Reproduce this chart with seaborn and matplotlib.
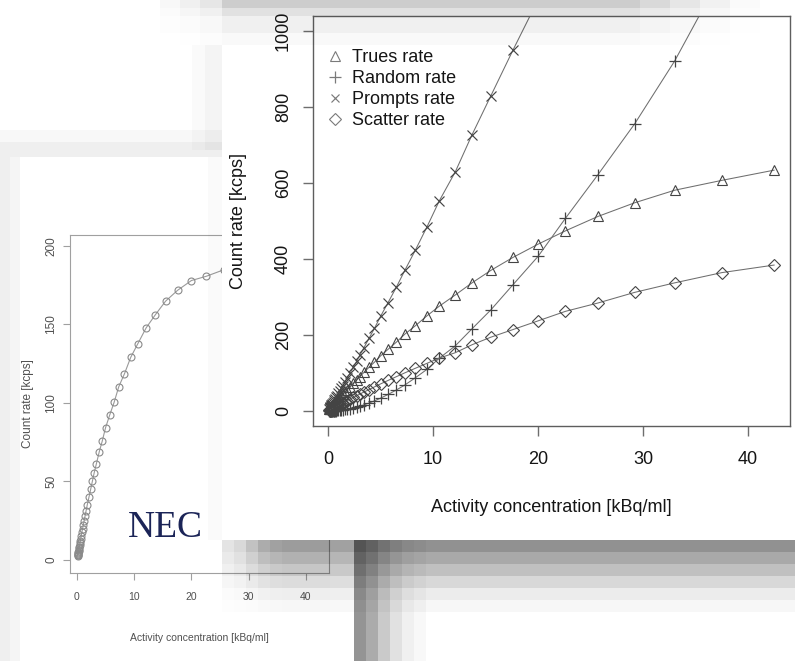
import numpy as np
import pandas as pd
import matplotlib
matplotlib.use("Agg")
import matplotlib.pyplot as plt
import seaborn as sns
from matplotlib.lines import Line2D
from matplotlib.patches import Rectangle

# Activity concentration of each acquisition frame [kBq/ml]
conc = [0.12, 0.14, 0.16, 0.18, 0.21, 0.24, 0.27, 0.31, 0.35, 0.40,
        0.45, 0.51, 0.58, 0.66, 0.75, 0.85, 0.97, 1.1, 1.25, 1.4,
        1.6, 1.8, 2.1, 2.4, 2.7, 3.0, 3.4, 3.9, 4.4, 5.0,
        5.7, 6.5, 7.3, 8.3, 9.4, 10.6, 12.1, 13.7, 15.5, 17.6,
        20.0, 22.6, 25.7, 29.2, 33.0, 37.5, 42.5]

# Count rates [kcps]
trues = [3.8, 4.4, 5.0, 5.7, 6.6, 7.5, 8.5, 9.7, 11.0, 12.5,
         14.1, 16.0, 18.1, 20.6, 23.4, 26.5, 30, 34, 38.5, 43,
         49, 55, 63.5, 72, 81, 90, 101, 115, 128, 145,
         162, 181, 202, 224, 250, 276, 305, 337, 370, 404,
         439, 474, 512, 548, 581, 607, 634]
randoms = [0.02, 0.03, 0.04, 0.05, 0.06, 0.08, 0.1, 0.13, 0.16, 0.2,
           0.3, 0.35, 0.45, 0.6, 0.8, 1.0, 1.3, 1.6, 2.1, 2.7,
           3.5, 4.4, 6.0, 7.8, 9.9, 12.2, 15.7, 20.6, 26, 33.5,
           43, 55, 68, 87, 109, 139, 171, 216, 266, 332,
           407, 507, 622, 756, 921, 1150, 1390]
scatter = [1.8, 2.1, 2.4, 2.7, 3.1, 3.6, 4.0, 4.6, 5.2, 6.0,
           6.7, 7.6, 8.7, 9.9, 11.2, 12.7, 14.5, 16.4, 18.6, 20.8,
           23.8, 26.7, 31, 35.2, 39.5, 44, 49.5, 56, 63, 71,
           80, 90, 100, 112, 125, 139, 153, 174, 194, 214,
           237, 262, 284, 312, 337, 364, 384]
prompts = [5.6, 6.5, 7.4, 8.5, 9.8, 11.2, 12.6, 14.4, 16.4, 18.7,
           21.1, 24.0, 27.3, 31.1, 35.4, 40.2, 45.8, 52, 59.2, 66.5,
           76.3, 86.1, 100.5, 115, 130.4, 146.2, 166.2, 191.6, 217, 249.5,
           285, 326, 370, 423, 484, 554, 629, 727, 830, 950,
           1083, 1243, 1418, 1616, 1839, 2121, 2408]
nec = [2.6, 3.0, 3.4, 3.8, 4.5, 5.0, 5.7, 6.5, 7.4, 8.4,
       9.4, 10.7, 12.0, 13.6, 15.5, 17.5, 19.7, 22.2, 25.0, 27.8,
       31.5, 35.1, 40.1, 45.1, 50.3, 55.4, 61.4, 69.0, 75.5, 84.3,
       92.1, 100.5, 110.3, 118.6, 129.1, 137.5, 147.9, 156.2, 164.9, 171.8,
       178.0, 180.7, 184.9, 185.8, 183.5, 174.0, 167.0]

series_labels = ["Trues rate", "Random rate", "Prompts rate", "Scatter rate"]
x_label = "Activity concentration [kBq/ml]"
y_label = "Count rate [kcps]"
main_xticks = [0, 10, 20, 30, 40]
main_yticks = [0, 200, 400, 600, 800, 1000]
nec_xticks = [0, 10, 20, 30, 40]
nec_yticks = [0, 50, 100, 150, 200]

df = pd.DataFrame({"conc": conc, "trues": trues, "randoms": randoms,
                   "prompts": prompts, "scatter": scatter, "nec": nec})

sns.set_theme(style="ticks")
plt.rcParams["font.family"] = ["Liberation Sans", "DejaVu Sans"]

W, H = 795, 661
fig = plt.figure(figsize=(W / 100, H / 100), dpi=100)
fig.patch.set_facecolor("white")


def fig_rect(x0, y0, x1, y1):
    """Pixel box (top-left origin) -> figure-fraction rect."""
    return [x0 / W, (H - y1) / H, (x1 - x0) / W, (y1 - y0) / H]


# ---------------- NEC panel (behind) ----------------
axL = fig.add_axes(fig_rect(70, 235, 329, 573))
axL.set_zorder(1)
axL.set_facecolor("white")
sns.lineplot(data=df, x="conc", y="nec", ax=axL, errorbar=None,
             color="#9a9a9a", lw=0.8, marker="o", ms=5.0,
             markerfacecolor="none", markeredgecolor="#8a8a8a",
             markeredgewidth=0.8)
axL.set_xlim(-1.22, 44.06)
axL.set_ylim(-8.3, 207)
axL.set_xticks(nec_xticks)
axL.set_xticklabels([str(v) for v in nec_xticks])
axL.set_yticks(nec_yticks)
axL.set_yticklabels([str(v) for v in nec_yticks], rotation=90, va="center")
for sp in axL.spines.values():
    sp.set_color("#a0a0a0")
    sp.set_linewidth(0.8)
axL.tick_params(axis="both", length=5, width=0.8, color="#a0a0a0",
                labelsize=7.5, labelcolor="#505050")
axL.tick_params(axis="x", pad=9)
axL.tick_params(axis="y", pad=4, labelsize=8.5)
axL.set_xlabel(x_label, fontsize=7.5, color="#505050")
axL.set_ylabel(y_label, fontsize=8.5, color="#505050")
axL.xaxis.set_label_coords(0.5, -0.192)
axL.xaxis.label.set_va("center")
axL.yaxis.set_label_coords(-0.162, 0.5)
axL.yaxis.label.set_va("center")

fig.text(128 / W, (H - 537) / H, "NEC", fontfamily="Liberation Serif",
         fontsize=27, color="#1b2457", ha="left", va="baseline", zorder=1.5)

# White card holding the count-rate chart
fig.add_artist(Rectangle((222 / W, (H - 540) / H), (W - 222) / W, 540 / H,
                         transform=fig.transFigure, facecolor="white",
                         edgecolor="none", zorder=2))

# ---------------- Count-rate panel ----------------
axM = fig.add_axes(fig_rect(313, 16, 790, 426))
axM.set_zorder(3)
axM.set_facecolor("white")

line_col = "#6e6e6e"
styles = {
    "trues": dict(marker="^", ms=7.8, mew=0.8),
    "randoms": dict(marker="+", ms=9, mew=0.9),
    "prompts": dict(marker="x", ms=6.8, mew=0.85),
    "scatter": dict(marker="D", ms=6.0, mew=0.8),
}
for key in ["trues", "randoms", "prompts", "scatter"]:
    st = styles[key]
    sns.lineplot(data=df, x="conc", y=key, ax=axM, errorbar=None,
                 color=line_col, lw=0.75, marker=st["marker"],
                 ms=st["ms"], markerfacecolor="none",
                 markeredgecolor="#444444", markeredgewidth=st["mew"])

axM.set_xlim(-1.45, 44.0)
axM.set_ylim(-40, 1040)
axM.set_xticks(main_xticks)
axM.set_xticklabels([str(v) for v in main_xticks])
axM.set_yticks(main_yticks)
axM.set_yticklabels([str(v) for v in main_yticks], rotation=90, va="center")
for sp in axM.spines.values():
    sp.set_color("#5e5e5e")
    sp.set_linewidth(1.0)
axM.tick_params(axis="both", length=7.2, width=1.0, color="#6e6e6e",
                labelsize=13, labelcolor="#151515")
axM.tick_params(axis="x", pad=11)
axM.tick_params(axis="y", pad=8)
axM.set_xlabel(x_label, fontsize=13, color="#151515")
axM.set_ylabel(y_label, fontsize=13, color="#151515")
axM.xaxis.set_label_coords(0.5, -0.1976)
axM.xaxis.label.set_va("center")
axM.yaxis.set_label_coords(-0.157, 0.5)
axM.yaxis.label.set_va("center")

handles = [Line2D([], [], linestyle="none", marker=styles[k]["marker"],
                  ms=styles[k]["ms"] * 0.95, markerfacecolor="none",
                  markeredgecolor="#7a7a7a", markeredgewidth=styles[k]["mew"])
           for k in ["trues", "randoms", "prompts", "scatter"]]
leg = axM.legend(handles, series_labels, loc="upper left",
                 bbox_to_anchor=(326 / W, 1 - 49 / H),
                 bbox_transform=fig.transFigure, frameon=False, fontsize=13,
                 handlelength=1.0, handletextpad=0.45, labelspacing=0.22,
                 borderpad=0, borderaxespad=0)
for t in leg.get_texts():
    t.set_color("#151515")

# ---------------- Drop shadows of the stacked cards ----------------
alpha = np.zeros((H, W))


def shade(y0, y1, x0, x1, a):
    seg = alpha[y0:y1, x0:x1]
    alpha[y0:y1, x0:x1] = 1 - (1 - seg) * (1 - a)


# shadow along the top edge
top_rows = [(0, 8, 0.2), (8, 16, 0.12), (16, 33, 0.06), (33, 45, 0.025)]
top_cols = [(160, 180, 0.15), (180, 200, 0.3), (200, 222, 0.5),
            (222, 640, 1.0), (640, 670, 0.75), (670, 700, 0.5),
            (700, 730, 0.28), (730, 760, 0.1)]
for y0, y1, a in top_rows:
    for x0, x1, f in top_cols:
        shade(y0, y1, x0, x1, a * f)
shade(45, 150, 205, 222, 0.045)
shade(45, 150, 192, 205, 0.02)
# top and left edge of the NEC card
shade(130, 142, 0, 222, 0.03)
shade(142, 157, 0, 222, 0.065)
shade(157, H, 0, 10, 0.065)
shade(157, H, 10, 20, 0.04)
shade(157, 540, 208, 222, 0.02)
# shadow under the count-rate card
bot_rows = [(540, 552, 0.435), (552, 564, 0.34), (564, 576, 0.25),
            (576, 588, 0.155), (588, 600, 0.075), (600, 612, 0.035)]
bot_cols = [(222, 234, 0.25), (234, 246, 0.35), (246, 258, 0.55),
            (258, 270, 0.75), (270, 282, 0.85), (282, 330, 0.9),
            (330, 354, 0.85), (354, W, 1.0)]
for y0, y1, a in bot_rows:
    for x0, x1, f in bot_cols:
        shade(y0, y1, x0, x1, a * f)
# vertical shadow at the lower right
for x0, x1, a in [(354, 366, 0.42), (366, 378, 0.33), (378, 390, 0.21),
                  (390, 402, 0.12), (402, 414, 0.06), (414, 426, 0.03)]:
    shade(540, H, x0, x1, a)

rgba = np.zeros((H, W, 4))
rgba[..., 3] = alpha
axO = fig.add_axes([0, 0, 1, 1])
axO.set_zorder(10)
axO.patch.set_alpha(0)
axO.imshow(rgba, extent=(0, W, H, 0), interpolation="nearest", aspect="auto")
axO.set_xlim(0, W)
axO.set_ylim(H, 0)
axO.axis("off")

fig.savefig("out.png", dpi=100, facecolor="white")
